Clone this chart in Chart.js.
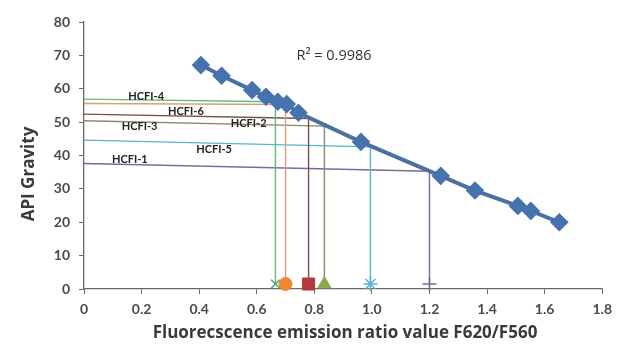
<!DOCTYPE html>
<html>
<head>
<meta charset="utf-8">
<script src="https://cdn.jsdelivr.net/npm/chart.js@4"></script>
<style>
  html, body { margin: 0; padding: 0; background: #fff; }
  #wrap { width: 619px; height: 351px; }
</style>
</head>
<body>
<div id="wrap"><canvas id="api-chart"></canvas></div>
<script>
// calibration points: fluorescence ratio vs API gravity
const ratioValues = [0.406, 0.478, 0.584, 0.632, 0.673, 0.704, 0.745, 0.962, 1.239, 1.358, 1.507, 1.552, 1.651]
const apiValues = [67.1, 63.9, 59.6, 57.6, 56.1, 55.4, 52.8, 44.1, 33.9, 29.5, 24.9, 23.4, 20.0]
const rSquared = '0.9986'

// read-off lines for the HCFI samples (top to bottom on the y axis)
const sampleApiStart = [56.9, 55.6, 52.4, 50.4, 44.6, 37.6]
const sampleApiEnd = [56.1, 55.3, 51.1, 48.8, 42.6, 35.3]
const sampleRatio = [0.665, 0.70, 0.78, 0.835, 0.995, 1.2]
const sampleBase = 1.5

// sample names and where they sit on the plot (ratio, API)
const sampleNames = ['HCFI-4', 'HCFI-6', 'HCFI-3', 'HCFI-2', 'HCFI-5', 'HCFI-1']
const sampleNameX = [0.216, 0.354, 0.193, 0.572, 0.452, 0.159]
const sampleNameY = [57.8, 53.3, 48.8, 49.6, 41.9, 38.9]

const lineColors = ['#62bd7c', '#d3a079', '#7a4e49', '#8d8a6c', '#56b4cf', '#7b6b97']
const markerColors = ['#4faa68', '#f0862f', '#b8393b', '#8fa84f', '#5ab4d6', '#7a6a99']
const markerStyles = ['crossRot', 'circle', 'rect', 'triangle', 'star', 'cross']
const markerSizes = [6, 6.5, 8.5, 7.5, 7, 7]

const FONT = 'Lato, "Open Sans", sans-serif'
const TITLE_FONT = '"Open Sans", Lato, sans-serif'

const sampleSets = sampleRatio.map((rx, i) => ({
  data: [
    { x: 0, y: sampleApiStart[i] },
    { x: rx, y: sampleApiEnd[i] },
    { x: rx, y: sampleBase },
  ],
  showLine: true,
  borderColor: lineColors[i],
  borderWidth: 1.4,
  pointRadius: [0, 0, markerSizes[i]],
  pointStyle: markerStyles[i],
  pointBackgroundColor: markerColors[i],
  pointBorderColor: markerColors[i],
  pointBorderWidth: (markerStyles[i] === 'crossRot' || markerStyles[i] === 'star' || markerStyles[i] === 'cross') ? 1.6 : 1,
  clip: false,
}))

const mainSet = {
  data: ratioValues.map((x, i) => ({ x, y: apiValues[i] })),
  showLine: true,
  borderColor: '#4b70a4',
  borderWidth: 4,
  pointStyle: 'rectRot',
  pointRadius: 6.5,
  pointBackgroundColor: '#4673ae',
  pointBorderColor: '#4673ae',
  clip: false,
}

// axis titles, R² note and sample names
const annotations = {
  id: 'annotations',
  afterDatasetsDraw(chart) {
    const { ctx, scales: { x, y } } = chart
    ctx.save()
    ctx.fillStyle = '#222'
    ctx.font = 'bold 11px ' + FONT
    ctx.textAlign = 'center'
    ctx.textBaseline = 'middle'
    sampleNames.forEach((name, i) => {
      ctx.fillText(name, x.getPixelForValue(sampleNameX[i]), y.getPixelForValue(sampleNameY[i]))
    })

    ctx.font = '14.5px ' + TITLE_FONT
    ctx.fillStyle = '#333'
    ctx.textAlign = 'left'
    ctx.fillText('R² = ' + rSquared, x.getPixelForValue(0.738), y.getPixelForValue(69.8))

    ctx.font = 'bold 17px ' + TITLE_FONT
    ctx.fillStyle = '#3a3a3a'
    ctx.textAlign = 'center'
    ctx.fillText('Fluorecscence emission ratio value F620/F560', 345, 333)

    ctx.translate(29, 174)
    ctx.rotate(-Math.PI / 2)
    ctx.fillText('API Gravity', 0, 0)
    ctx.restore()
  },
}

const axisLine = '#6a6a6a'
const tickFont = { family: FONT, size: 14, weight: 'bold' }

const chartCtx = document.getElementById('api-chart')
window.apiChart = new Chart(chartCtx, {
  type: 'scatter',
  data: { datasets: [mainSet, ...sampleSets] },
  options: {
    responsive: true,
    maintainAspectRatio: false,
    animation: false,
    layout: { padding: { top: 22, right: 12, left: 0, bottom: 0 } },
    plugins: { legend: { display: false }, tooltip: { enabled: false } },
    scales: {
      x: {
        type: 'linear',
        min: 0,
        max: 1.8,
        ticks: { stepSize: 0.2, font: tickFont, color: '#4a4a4a', padding: 7 },
        grid: { drawOnChartArea: false, tickLength: 5, color: axisLine },
        border: { color: axisLine, width: 1.3 },
        afterFit(scale) { scale.height = 62 },
      },
      y: {
        min: 0,
        max: 80,
        ticks: { stepSize: 10, font: tickFont, color: '#4a4a4a', padding: 9 },
        grid: { drawOnChartArea: false, tickLength: 5, color: axisLine },
        border: { color: axisLine, width: 1.3 },
        afterFit(scale) { scale.width = 84 },
      },
    },
  },
  plugins: [annotations],
})
</script>
</body>
</html>
